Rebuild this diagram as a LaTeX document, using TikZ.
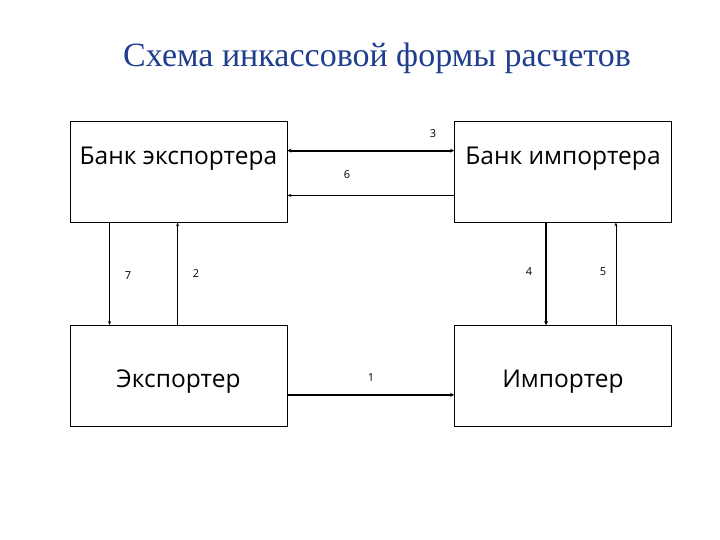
\documentclass[tikz,border=0pt]{standalone}
\usepackage{fontspec}
\setmainfont{Liberation Serif}
\newfontfamily\boxfont{Open Sans}
\usetikzlibrary{arrows.meta}
\definecolor{titleblue}{RGB}{31,62,140}
\tikzset{
  box/.style={draw=black, line width=0.8pt, minimum width=217pt, minimum height=101pt, inner sep=0pt},
  boxtext/.style={font=\boxfont\fontsize{24.5}{28}\selectfont, inner sep=0pt, anchor=base},
  num/.style={font=\boxfont\fontsize{11}{13}\selectfont, inner sep=0pt},
  thinarrow/.style={line width=0.8pt, -{Stealth[length=4pt,width=3pt]}},
  thickarrow/.style={line width=2pt, -{Stealth[length=4pt,width=4pt]}},
  thickboth/.style={line width=2pt, {Stealth[length=4pt,width=4pt]}-{Stealth[length=4pt,width=4pt]}}
}
\begin{document}
\begin{tikzpicture}[x=1pt,y=-1pt]
\useasboundingbox (0,0) rectangle (720,540);
\node[font=\fontsize{34}{38}\selectfont, text=titleblue] (title) at (377,58) {Схема инкассовой формы расчетов};
\node[box] (bex) at (178.5,171.5) {};
\node[box] (bim) at (563,171.5) {};
\node[box] (exp) at (178.5,376) {};
\node[box] (imp) at (563,376) {};
\node[boxtext] (tbex) at ([yshift=-44pt]bex.north) {Банк экспортера};
\node[boxtext] (tbim) at ([yshift=-44pt]bim.north) {Банк импортера};
\node[boxtext] (texp) at ([yshift=-11pt]exp.center) {Экспортер};
\node[boxtext] (timp) at ([yshift=-11pt]imp.center) {Импортер};
% horizontal connectors
\draw[thickboth] ([yshift=-30pt]bex.north east) -- ([yshift=-30pt]bim.north west);
\draw[thinarrow] ([yshift=27pt]bim.south west) -- ([yshift=27pt]bex.south east);
\draw[thickarrow] ([yshift=32pt]exp.south east) -- ([yshift=32pt]imp.south west);
% vertical connectors
\draw[thinarrow] ([xshift=40pt]bex.south west) -- ([xshift=40pt]exp.north west);
\draw[thinarrow] ([xshift=108pt]exp.north west) -- ([xshift=108pt]bex.south west);
\draw[thickarrow] ([xshift=92pt]bim.south west) -- ([xshift=92pt]imp.north west);
\draw[thinarrow] ([xshift=-56pt]imp.north east) -- ([xshift=-56pt]bim.south east);
% labels
\node[num] (n3) at (433,134) {3};
\node[num] (n6) at (347,175) {6};
\node[num] (n7) at (128,276) {7};
\node[num] (n2) at (196,274) {2};
\node[num] (n4) at (529,272) {4};
\node[num] (n5) at (603,272) {5};
\node[num] (n1) at (371,378) {1};
\end{tikzpicture}
\end{document}
